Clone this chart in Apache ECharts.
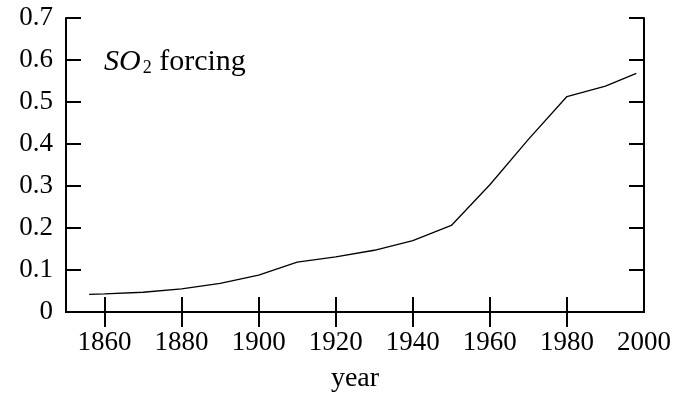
<!DOCTYPE html>
<html>
<head>
<meta charset="utf-8">
<script src="https://cdn.jsdelivr.net/npm/echarts@6/dist/echarts.min.js"></script>
<style>
  html, body { margin: 0; padding: 0; background: #fff; }
  #chart { width: 691px; height: 398px; }
</style>
</head>
<body>
<div id="chart"></div>
<script>
// SO2 forcing over time
const years = [1856, 1860, 1870, 1880, 1890, 1900, 1910, 1920, 1930, 1940, 1950, 1960, 1970, 1980, 1990, 1998];
const forcing = [0.042, 0.043, 0.047, 0.055, 0.068, 0.088, 0.119, 0.131, 0.147, 0.170, 0.206, 0.303, 0.411, 0.513, 0.538, 0.568];
const yearTicks = [1860, 1880, 1900, 1920, 1940, 1960, 1980, 2000];
const innerYearTicks = [1860, 1880, 1900, 1920, 1940, 1960, 1980];

const FONT = '"Liberation Serif", "DejaVu Serif", serif';
const frameLine = { lineStyle: { color: '#000', width: 2 } };
const tickStyle = { inside: true, length: 15, lineStyle: { color: '#000', width: 2 } };

const chart = echarts.init(document.getElementById('chart'), null, { renderer: 'canvas' });

chart.setOption({
  animation: false,
  backgroundColor: '#fff',
  grid: { left: 66, right: 47, top: 18, bottom: 84 },
  title: {
    text: '{i|SO}{s|2}{n| forcing}',
    left: 104,
    top: 45,
    padding: 0,
    textStyle: {
      fontWeight: 'normal',
      rich: {
        i: { fontFamily: FONT, fontStyle: 'italic', fontWeight: 'normal', fontSize: 30, color: '#000', lineHeight: 32, verticalAlign: 'bottom' },
        s: { fontFamily: FONT, fontWeight: 'normal', fontSize: 18, color: '#000', lineHeight: 19, verticalAlign: 'bottom', padding: [0, 0, 0, 2] },
        n: { fontFamily: FONT, fontWeight: 'normal', fontSize: 30, color: '#000', lineHeight: 32, verticalAlign: 'bottom' }
      }
    }
  },
  xAxis: [
    {
      type: 'value',
      position: 'bottom',
      min: 1850,
      max: 2000,
      axisLine: frameLine,
      axisTick: Object.assign({ customValues: innerYearTicks }, tickStyle),
      axisLabel: {
        customValues: yearTicks,
        fontFamily: FONT, fontSize: 27, color: '#000', margin: 17,
        formatter: v => String(v)
      },
      splitLine: { show: false },
      name: 'year',
      nameLocation: 'middle',
      nameGap: 53,
      nameTextStyle: { fontFamily: FONT, fontSize: 28, color: '#000' }
    },
    {
      type: 'value',
      position: 'top',
      min: 1850,
      max: 2000,
      axisLine: frameLine,
      axisTick: Object.assign({ customValues: innerYearTicks }, tickStyle),
      axisLabel: { show: false },
      splitLine: { show: false }
    }
  ],
  yAxis: [
    {
      type: 'value',
      position: 'left',
      min: 0,
      max: 0.7,
      interval: 0.1,
      axisLine: Object.assign({ show: true }, frameLine),
      axisTick: Object.assign({ show: true }, tickStyle),
      axisLabel: {
        fontFamily: FONT, fontSize: 27, color: '#000', margin: 13,
        formatter: v => (v === 0 ? '0' : v.toFixed(1))
      },
      splitLine: { show: false }
    },
    {
      type: 'value',
      position: 'right',
      min: 0,
      max: 0.7,
      interval: 0.1,
      axisLine: Object.assign({ show: true }, frameLine),
      axisTick: Object.assign({ show: true }, tickStyle),
      axisLabel: { show: false },
      splitLine: { show: false }
    }
  ],
  series: [
    {
      type: 'line',
      xAxisIndex: 0,
      yAxisIndex: 0,
      data: years.map((y, i) => [y, forcing[i]]),
      showSymbol: false,
      symbol: 'none',
      lineStyle: { color: '#000', width: 1.3 }
    }
  ]
});
</script>
</body>
</html>
